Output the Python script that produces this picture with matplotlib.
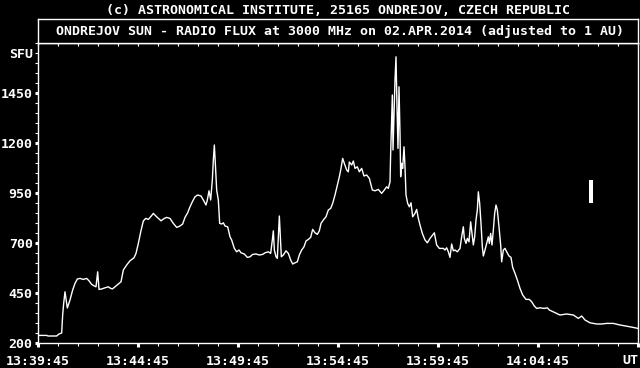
import matplotlib
matplotlib.use('Agg')
import matplotlib.pyplot as plt
from matplotlib.ticker import FixedLocator, FuncFormatter

# seconds after 13:39:45 UT and flux in SFU
t_sec = [0, 26, 30, 56, 63, 71, 74, 77, 81, 88, 96, 104, 111, 118, 126, 136, 146, 153, 161, 169,
         174, 179, 183, 191, 201, 211, 216, 223, 231, 241, 249, 256, 266, 276, 288, 294, 301, 309, 316, 323,
         331, 338, 346, 356, 369, 379, 386, 396, 406, 416, 426, 434, 441, 449, 456, 463, 471, 479, 489, 496,
         504, 508, 513, 518, 523, 526, 529, 532, 536, 541, 545, 551, 556, 561, 569, 576, 581, 589, 596, 603,
         609, 619, 628, 636, 644, 654, 664, 674, 681, 691, 698, 703, 706, 709, 714, 718, 721, 724, 727, 730,
         736, 744, 751, 758, 764, 771, 778, 784, 791, 798, 804, 811, 818, 824, 831, 838, 844, 849, 856, 864,
         871, 878, 884, 891, 898, 904, 909, 914, 919, 926, 931, 934, 941, 946, 951, 958, 964, 971, 978, 986,
         994, 1003, 1011, 1021, 1031, 1039, 1046, 1051, 1056, 1058, 1061, 1063, 1065, 1068, 1071, 1074, 1077, 1080, 1083, 1086,
         1088, 1091, 1094, 1098, 1101, 1104, 1109, 1114, 1119, 1124, 1131, 1136, 1141, 1146, 1153, 1161, 1168, 1176, 1184, 1189,
         1196, 1204, 1216, 1221, 1226, 1231, 1236, 1241, 1246, 1251, 1258, 1266, 1271, 1276, 1279, 1284, 1288, 1293, 1298, 1302,
         1306, 1310, 1314, 1318, 1321, 1325, 1329, 1333, 1336, 1341, 1346, 1351, 1354, 1358, 1362, 1366, 1370, 1374, 1378, 1383,
         1388, 1391, 1396, 1401, 1406, 1413, 1419, 1424, 1431, 1438, 1446, 1454, 1464, 1474, 1481, 1489, 1496, 1506, 1518, 1528,
         1534, 1556, 1566, 1586, 1606, 1621, 1631, 1641, 1656, 1676, 1691, 1706, 1726, 1746, 1776, 1800]
sfu = [238, 238, 235, 235, 245, 250, 340, 398, 456, 375, 415, 465, 498, 520, 523, 518, 523, 511, 493, 485,
       481, 556, 468, 470, 476, 481, 475, 470, 481, 495, 506, 565, 590, 611, 626, 648, 698, 762, 810, 823,
       818, 831, 848, 831, 811, 823, 828, 823, 798, 778, 785, 795, 828, 851, 881, 906, 931, 940, 935, 915,
       890, 915, 961, 915, 1015, 1115, 1190, 1098, 965, 915, 798, 795, 801, 785, 781, 731, 715, 673, 656, 665,
       651, 645, 628, 631, 643, 645, 640, 643, 651, 656, 648, 715, 761, 665, 631, 623, 731, 835, 731, 631,
       640, 661, 648, 615, 595, 601, 606, 640, 665, 681, 710, 718, 728, 768, 751, 743, 761, 798, 815, 831,
       865, 873, 898, 940, 990, 1031, 1073, 1123, 1098, 1065, 1056, 1105, 1090, 1110, 1073, 1081, 1056, 1073, 1035, 1040,
       1023, 965, 961, 968, 948, 965, 981, 973, 1006, 1148, 1331, 1440, 1165, 1348, 1515, 1631, 1381, 1173, 1481, 1248,
       1031, 1098, 1073, 1181, 1081, 940, 898, 881, 901, 831, 848, 868, 823, 790, 748, 715, 701, 723, 740, 751,
       690, 673, 673, 665, 676, 656, 628, 695, 661, 665, 656, 673, 731, 781, 723, 698, 723, 706, 806, 748,
       690, 731, 815, 865, 956, 898, 798, 681, 635, 665, 698, 731, 698, 748, 690, 765, 848, 890, 865, 781,
       690, 606, 665, 673, 656, 635, 628, 578, 548, 515, 473, 440, 418, 418, 406, 385, 373, 376, 373, 376,
       365, 348, 340, 345, 340, 323, 335, 315, 301, 295, 295, 298, 298, 290, 281, 273]

x_major = [0, 300, 600, 900, 1200, 1500, 1800]
x_labels = ['13:39:45', '13:44:45', '13:49:45', '13:54:45', '13:59:45', '14:04:45', '']
y_major = [200, 450, 700, 950, 1200, 1450]

# the little vertical bar right of the curve
marker_t = 1659
marker_lo, marker_hi = 901, 1015

title_top = '(c) ASTRONOMICAL INSTITUTE, 25165 ONDREJOV, CZECH REPUBLIC'
title_box = 'ONDREJOV SUN - RADIO FLUX at 3000 MHz on 02.APR.2014 (adjusted to 1 AU)'

plt.rcParams['font.family'] = ['DejaVu Sans Mono']
plt.rcParams['font.weight'] = 'bold'
plt.rcParams['font.size'] = 9.5

W, H = 640, 368
fig = plt.figure(figsize=(W / 100, H / 100), dpi=100, facecolor='black')
ax = fig.add_axes([38 / W, 25 / H, 600 / W, 300 / H])
ax.set_facecolor('black')

ax.plot(t_sec, sfu, color='white', lw=1.0)
ax.vlines(marker_t, marker_lo, marker_hi, color='white', lw=2.9)

ax.set_xlim(0, 1800)
ax.set_ylim(200, 1700)

ax.set_xticks(x_major)
ax.set_xticklabels(x_labels)
ax.xaxis.set_minor_locator(FixedLocator(range(0, 1801, 60)))
ax.set_yticks(y_major)
ax.set_yticklabels([str(v) for v in y_major])
ax.yaxis.set_minor_locator(FixedLocator(range(200, 1701, 50)))
ax.yaxis.set_minor_formatter(FuncFormatter(lambda v, p: 'SFU' if v == 1650 else ''))

for s in ax.spines.values():
    s.set_color('white')
    s.set_linewidth(1.0)

ax.tick_params(axis='x', which='major', direction='out', length=3, width=2.2,
               color='white', labelcolor='white', pad=5.5)
ax.tick_params(axis='x', which='minor', direction='out', length=2.2, width=0.8, color='white')
ax.tick_params(axis='y', which='major', direction='out', length=2.2, width=2.2,
               color='white', labelcolor='white', pad=1.6)
ax.tick_params(axis='y', which='minor', direction='out', length=2.2, width=0.8,
               color='white', labelcolor='white', pad=1.6)

top = ax.secondary_xaxis('top')
top.set_xticks(range(0, 1801, 60))
top.tick_params(direction='in', length=2.2, width=0.8, color='white', labeltop=False)
top.spines['top'].set_color('white')

# boxed title above the plot
tbox = fig.add_axes([38 / W, (H - 43) / H, 600 / W, 24 / H])
tbox.set_facecolor('black')
tbox.set_xticks([])
tbox.set_yticks([])
for s in tbox.spines.values():
    s.set_color('white')
    s.set_linewidth(1.0)
tbox.text(0.503, 0.5, title_box, color='white', ha='center', va='center', transform=tbox.transAxes)

fig.text(338 / W, 1 - 10 / H, title_top, color='white', ha='center', va='center')
fig.text(638 / W, 1 - 360 / H, 'UT', color='white', ha='right', va='center')

fig.savefig('out.png', dpi=100, facecolor='black')
